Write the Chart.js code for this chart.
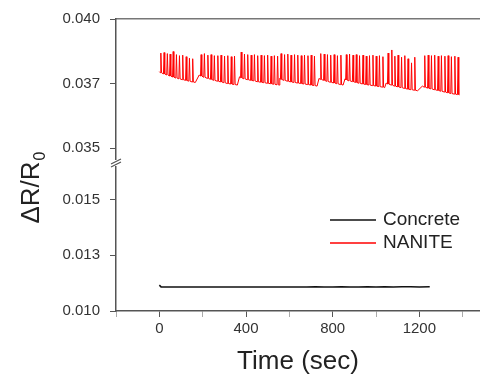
<!DOCTYPE html>
<html>
<head>
<meta charset="utf-8">
<script src="https://cdn.jsdelivr.net/npm/chart.js@4/dist/chart.umd.min.js"></script>
<style>
html,body{margin:0;padding:0;background:#fff;}
#c{display:block;}
</style>
</head>
<body>
<canvas id="c" width="480" height="375"></canvas>
<script>
// ---------- DATA ----------
const xTickValues = [-200, 0, 200, 400, 600, 800, 1000, 1200, 1400];
const xTickLabels = ['', '0', '', '400', '', '800', '', '1200', ''];
const yHighTicks = [0.035, 0.0375, 0.040];
const yHighLabels = ['0.035', '0.037', '0.040'];
const yLowTicks = [0.010, 0.0125, 0.015];
const yLowLabels = ['0.010', '0.013', '0.015'];

// NANITE: baseline at start of each measuring block (and final point)
const nanStartTime = [0, 184, 370, 556, 737, 857, 1047, 1214, 1385];
const nanStartBase = [0.03796, 0.03783, 0.03776, 0.03770, 0.03770, 0.03768, 0.03752, 0.03740, 0.03706];
// NANITE: baseline at end of each measuring block
const nanEndTime = [166, 360, 553, 728, 848, 1040, 1192];
const nanEndBase = [0.03754, 0.03744, 0.03744, 0.03740, 0.03744, 0.03734, 0.03722];

// NANITE: spikes (time, peak, baseline)
const nanSpikeTime = [
  7,22,37,50,64,79,93,108,124,139,154,
  193,208,224,239,254,270,285,301,316,332,347,
  378,393,408,424,439,454,470,485,500,516,531,546,
  562,578,593,608,624,639,655,670,686,701,716,
  745,761,776,791,807,822,838,
  863,878,894,909,924,940,955,970,986,1001,1016,1032,
  1056,1073,1087,1102,1118,1133,1148,1164,1179,
  1225,1241,1256,1271,1287,1302,1318,1333,1348,1364,1379
];
const nanSpikePeak = [
  0.03868,0.03870,0.03866,0.03864,0.03874,0.03862,0.03858,0.03860,0.03854,0.03848,0.03846,
  0.03862,0.03866,0.03860,0.03862,0.03858,0.03858,0.03860,0.03856,0.03858,0.03854,0.03856,
  0.03872,0.03864,0.03862,0.03860,0.03862,0.03858,0.03860,0.03858,0.03860,0.03856,0.03858,0.03856,
  0.03866,0.03862,0.03864,0.03860,0.03862,0.03860,0.03858,0.03860,0.03858,0.03860,0.03856,
  0.03866,0.03864,0.03862,0.03860,0.03862,0.03858,0.03860,
  0.03862,0.03864,0.03860,0.03862,0.03858,0.03860,0.03856,0.03858,0.03860,0.03856,0.03858,0.03854,
  0.03868,0.03880,0.03856,0.03860,0.03852,0.03858,0.03846,0.03830,0.03852,
  0.03858,0.03860,0.03858,0.03860,0.03856,0.03858,0.03856,0.03858,0.03854,0.03856,0.03852
];
const nanSpikeBase = [
  0.03792,0.03787,0.03783,0.03779,0.03775,0.03771,0.03768,0.03765,0.03762,0.03759,0.03756,
  0.03779,0.03774,0.03770,0.03766,0.03762,0.03759,0.03756,0.03753,0.03750,0.03748,0.03746,
  0.03772,0.03768,0.03765,0.03762,0.03760,0.03757,0.03755,0.03753,0.03751,0.03749,0.03747,0.03745,
  0.03766,0.03762,0.03759,0.03756,0.03754,0.03752,0.03750,0.03748,0.03746,0.03744,0.03742,
  0.03766,0.03762,0.03758,0.03755,0.03752,0.03749,0.03746,
  0.03764,0.03760,0.03757,0.03754,0.03751,0.03748,0.03746,0.03744,0.03742,0.03740,0.03738,0.03736,
  0.03748,0.03744,0.03740,0.03737,0.03734,0.03731,0.03728,0.03726,0.03724,
  0.03736,0.03732,0.03729,0.03726,0.03723,0.03720,0.03717,0.03714,0.03711,0.03709,0.03707
];
const spikeHalfWidth = 3; // seconds

// Concrete
const conTime = [0, 8, 40, 80, 120, 160, 200, 240, 280, 320, 360, 400, 440, 480, 520, 560, 600, 640, 680, 720, 760, 800, 840, 880, 920, 960, 1000, 1040, 1080, 1120, 1160, 1200, 1248];
const conVal  = [0.01116, 0.01108, 0.01107, 0.01108, 0.01107, 0.01108, 0.01108, 0.01107, 0.01108, 0.01107, 0.01108, 0.01107, 0.01108, 0.01107, 0.01108, 0.01108, 0.01107, 0.01108, 0.01108, 0.01109, 0.01108, 0.01108, 0.01109, 0.01108, 0.01108, 0.01109, 0.01108, 0.01109, 0.01108, 0.01109, 0.01109, 0.01108, 0.01109];

const seriesNames = ['Concrete', 'NANITE'];

// ---------- build point tables ----------
const nanPoints = [];
nanStartTime.forEach((t, i) => nanPoints.push({x: t, y: nanStartBase[i]}));
nanEndTime.forEach((t, i) => nanPoints.push({x: t, y: nanEndBase[i]}));
nanSpikeTime.forEach((t, i) => {
  nanPoints.push({x: t - spikeHalfWidth, y: nanSpikeBase[i]});
  nanPoints.push({x: t, y: nanSpikePeak[i]});
  nanPoints.push({x: t + spikeHalfWidth, y: nanSpikeBase[i]});
});
nanPoints.sort((a, b) => a.x - b.x);
const conPoints = conTime.map((t, i) => ({x: t, y: conVal[i]}));

const FONT = '"Liberation Sans", Arial, sans-serif';
const AXIS = '#555';
const TXT = '#333';

function setTicks(values) {
  return (axis) => { axis.ticks = values.map(v => ({value: v})); };
}
function labelFrom(values, labels) {
  return (v) => { const i = values.findIndex(x => Math.abs(x - v) < 1e-9); return i >= 0 ? labels[i] : ''; };
}

const decor = {
  id: 'decor',
  afterDraw(chart) {
    const ctx = chart.ctx;
    const ca = chart.chartArea;
    const yLow = chart.scales.yLow;
    // axis break
    const bx = ca.left, by = yLow.top;
    ctx.save();
    ctx.fillStyle = '#fff';
    ctx.fillRect(bx - 2, by - 3, 4, 6);
    ctx.strokeStyle = AXIS;
    ctx.lineWidth = 1.2;
    ctx.beginPath();
    ctx.moveTo(bx - 5, by + 1); ctx.lineTo(bx + 5, by - 4);
    ctx.moveTo(bx - 5, by + 4); ctx.lineTo(bx + 5, by - 1);
    ctx.stroke();
    ctx.restore();

    // y title  ΔR/R0
    ctx.save();
    ctx.fillStyle = '#222';
    ctx.translate(30, 188);
    ctx.rotate(-Math.PI / 2);
    ctx.font = '26px ' + FONT;
    const main = 'ΔR/R';
    const w1 = ctx.measureText(main).width;
    ctx.font = '16px ' + FONT;
    const w2 = ctx.measureText('0').width;
    const start = -(w1 + w2) / 2;
    ctx.textBaseline = 'alphabetic';
    ctx.font = '26px ' + FONT;
    ctx.fillText(main, start, 9);
    ctx.font = '16px ' + FONT;
    ctx.fillText('0', start + w1 + 1, 15);
    ctx.restore();

    // legend
    ctx.save();
    ctx.font = '19px ' + FONT;
    ctx.textBaseline = 'middle';
    chart.data.datasets.forEach((ds, i) => {
      const y = 220 + i * 23;
      ctx.strokeStyle = ds.borderColor;
      ctx.lineWidth = 1.5;
      ctx.beginPath(); ctx.moveTo(330, y); ctx.lineTo(376, y); ctx.stroke();
      ctx.fillStyle = '#222';
      ctx.fillText(ds.label, 383, y);
    });
    ctx.restore();
  }
};

const minorColor = (c) => (c.tick && Math.abs(c.tick.value % 400) > 1e-6) ? '#aaa' : AXIS;

new Chart(document.getElementById('c'), {
  type: 'line',
  data: {
    datasets: [
      {label: seriesNames[0], data: conPoints, xAxisID: 'x', yAxisID: 'yLow', borderColor: '#111', borderWidth: 1.5, pointRadius: 0, tension: 0},
      {label: seriesNames[1], data: nanPoints, xAxisID: 'x', yAxisID: 'yHigh', borderColor: '#ff0000', borderWidth: 1, pointRadius: 0, tension: 0}
    ]
  },
  options: {
    responsive: false,
    animation: false,
    devicePixelRatio: 1,
    layout: {padding: 0},
    plugins: {legend: {display: false}, tooltip: {enabled: false}},
    scales: {
      xTop: {
        type: 'linear', position: 'top', min: -200, max: 1480,
        ticks: {display: false},
        grid: {display: true, drawOnChartArea: false, drawTicks: false},
        border: {display: true, color: '#777', width: 1.5},
        afterFit: (s) => { s.height = 19; }
      },
      yLow: {
        type: 'linear', position: 'left', stack: 'y', stackWeight: 148,
        min: 0.010, max: 0.01663,
        afterBuildTicks: setTicks(yLowTicks),
        ticks: {callback: labelFrom(yLowTicks, yLowLabels), color: TXT, font: {family: FONT, size: 15}, padding: 10, autoSkip: false},
        grid: {display: true, drawOnChartArea: false, tickLength: 6, tickColor: AXIS},
        border: {display: true, color: AXIS, width: 1.5},
        afterFit: (s) => { s.width = 116; }
      },
      yHigh: {
        type: 'linear', position: 'left', stack: 'y', stackWeight: 144,
        min: 0.03442, max: 0.040,
        afterBuildTicks: setTicks(yHighTicks),
        ticks: {callback: labelFrom(yHighTicks, yHighLabels), color: TXT, font: {family: FONT, size: 15}, padding: 10, autoSkip: false},
        grid: {display: true, drawOnChartArea: false, tickLength: 6, tickColor: AXIS},
        border: {display: true, color: AXIS, width: 1.5},
        afterFit: (s) => { s.width = 116; }
      },
      x: {
        type: 'linear', position: 'bottom', min: -200, max: 1480,
        afterBuildTicks: setTicks(xTickValues),
        ticks: {callback: labelFrom(xTickValues, xTickLabels), color: TXT, font: {family: FONT, size: 15}, padding: 3, autoSkip: false, maxRotation: 0},
        grid: {display: true, drawOnChartArea: false, tickLength: 6, tickColor: minorColor},
        border: {display: true, color: AXIS, width: 1.5},
        title: {display: true, text: 'Time (sec)', color: '#222', font: {family: FONT, size: 26}, padding: {top: 0, bottom: -2}},
        afterFit: (s) => { s.height = 64; }
      }
    }
  },
  plugins: [decor]
});
</script>
</body>
</html>
